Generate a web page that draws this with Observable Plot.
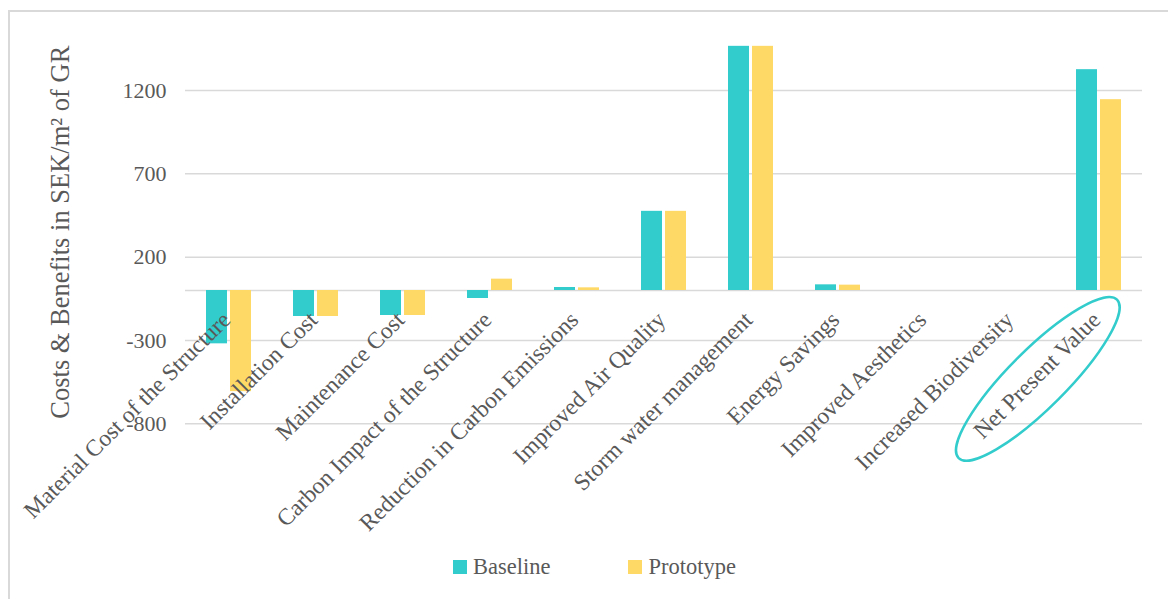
<!DOCTYPE html>
<html>
<head>
<meta charset="utf-8">
<script src="https://cdn.jsdelivr.net/npm/d3@7"></script>
<script src="https://cdn.jsdelivr.net/npm/@observablehq/plot@0.6"></script>
<style>
  html, body { margin: 0; padding: 0; background: #fff; }
  body { position: relative; width: 1168px; height: 599px; overflow: hidden; }
  #frame { position: absolute; left: 8px; top: 10px; width: 1300px; height: 800px; border: 2px solid #d9d9d9; box-sizing: border-box; }
  #chart { position: absolute; left: 0; top: 0; width: 1168px; }
  #legend { display: flex; align-items: center; height: 44px; padding-left: 453px; font-family: "Liberation Serif", serif; font-size: 22.5px; color: #595959; }
  #legend .item { display: flex; align-items: center; margin-right: 78px; }
  #legend .sw { width: 14px; height: 14px; margin-right: 6px; display: inline-block; }
</style>
</head>
<body>
<div id="frame"></div>
<div id="chart"></div>
<script>
const categories = [
  "Material Cost of the Structure",
  "Installation Cost",
  "Maintenance Cost",
  "Carbon Impact of the Structure",
  "Reduction in Carbon Emissions",
  "Improved Air Quality",
  "Storm water management",
  "Energy Savings",
  "Improved Aesthetics",
  "Increased Biodiversity",
  "Net Present Value"
];
const baseline  = [-320, -156, -150, -48, 18, 475, 1465, 34, 0, 0, 1325];
const prototype = [-607, -156, -150,  68, 16, 475, 1465, 32, 0, 0, 1145];
const seriesNames = ["Baseline", "Prototype"];
const seriesColors = ["#33CCCC", "#FFD966"];
const yTicks = [-800, -300, 200, 700, 1200];
const yLabel = "Costs & Benefits in SEK/m\u00B2 of GR";
const highlighted = "Net Present Value";

const data = categories.flatMap((c, i) => [
  {category: c, series: seriesNames[0], value: baseline[i]},
  {category: c, series: seriesNames[1], value: prototype[i]}
]);

const textColor = "#595959";
const gridColor = "#d9d9d9";

const plot = Plot.plot({
  width: 1168,
  height: 545,
  marginLeft: 182,
  marginRight: 24,
  marginTop: 40,
  marginBottom: 121.67,
  style: {fontFamily: "Liberation Serif, serif", color: textColor, background: "transparent", overflow: "visible"},
  fx: {domain: categories, padding: 0, axis: null},
  x: {domain: seriesNames, paddingInner: 0.14, paddingOuter: 0.84, axis: null},
  y: {domain: [-800, 1500]},
  color: {domain: seriesNames, range: seriesColors},
  marks: [
    Plot.ruleY(yTicks, {stroke: gridColor, strokeWidth: 1.5}),
    Plot.ruleY([0], {stroke: gridColor, strokeWidth: 1.5}),
    Plot.axisY(yTicks, {tickSize: 0, tickPadding: 19, fontSize: 22, fill: textColor, label: null, tickFormat: d => String(d)}),
    Plot.barY(data, {fx: "category", x: "series", y: "value", fill: "series"}),
    Plot.text([yLabel], {fx: () => categories[0], frameAnchor: "left", textAnchor: "middle", lineAnchor: "middle", rotate: -90, dx: -125, fontSize: 26.5, fill: textColor, text: d => d}),
    Plot.text(categories, {fx: d => d, y: () => 0, text: d => d, rotate: -45, textAnchor: "end", lineAnchor: "top", dx: -9, dy: 19, fontSize: 23.5, fill: textColor})
  ]
});

const chart = document.getElementById("chart");
chart.appendChild(plot);

// highlight ellipse around the Net Present Value label
const labelEl = Array.from(plot.querySelectorAll("text")).find(t => t.textContent === highlighted);
if (labelEl) {
  const bb = labelEl.getBBox();
  const ns = "http://www.w3.org/2000/svg";
  const el = document.createElementNS(ns, "ellipse");
  el.setAttribute("cx", bb.x + bb.width / 2 - 2);
  el.setAttribute("cy", bb.y + bb.height / 2 + 3.5);
  el.setAttribute("rx", bb.width / 2 + 28);
  el.setAttribute("ry", 29);
  el.setAttribute("fill", "none");
  el.setAttribute("stroke", seriesColors[0]);
  el.setAttribute("stroke-width", 2.5);
  const tr = labelEl.getAttribute("transform");
  if (tr) el.setAttribute("transform", tr);
  labelEl.parentNode.appendChild(el);
}

// legend
const legend = document.createElement("div");
legend.id = "legend";
seriesNames.forEach((name, i) => {
  const item = document.createElement("span");
  item.className = "item";
  const sw = document.createElement("span");
  sw.className = "sw";
  sw.style.background = seriesColors[i];
  const lab = document.createElement("span");
  lab.textContent = name;
  item.appendChild(sw);
  item.appendChild(lab);
  legend.appendChild(item);
});
chart.appendChild(legend);
</script>
</body>
</html>
